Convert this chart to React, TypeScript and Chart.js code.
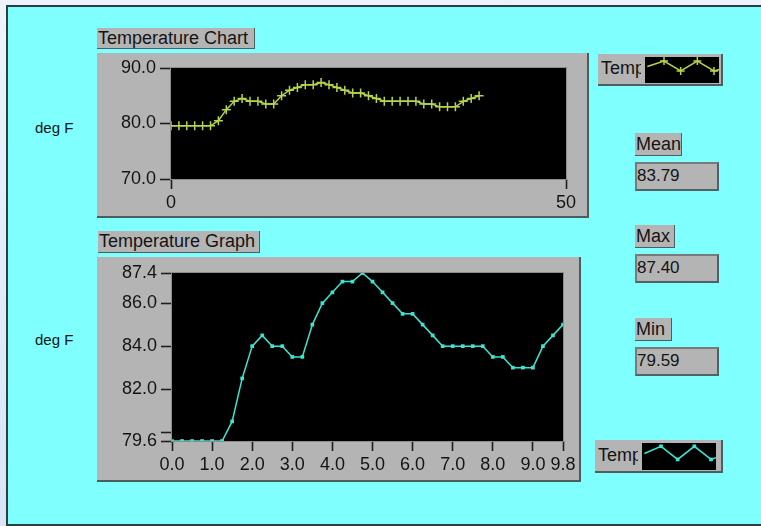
import React, { useEffect, useRef } from "react";
import { Chart, registerables } from "chart.js";

Chart.register(...registerables);

// ---------- data ----------
const TEMPERATURES = [
  79.59, 79.59, 79.59, 79.59, 79.59, 79.59, 80.5, 82.5, 84.0, 84.5,
  84.0, 84.0, 83.5, 83.5, 85.0, 86.0, 86.5, 87.0, 87.0, 87.4,
  87.0, 86.5, 86.0, 85.5, 85.5, 85.0, 84.5, 84.0, 84.0, 84.0,
  84.0, 84.0, 83.5, 83.5, 83.0, 83.0, 83.0, 84.0, 84.5, 85.0,
];
const GRAPH_X0 = 0;
const GRAPH_DX = 0.25;

const CHART_X_TICKS = [0, 50];
const CHART_X_LABELS = ["0", "50"];
const CHART_Y_TICKS = [70, 80, 90];
const CHART_Y_LABELS = ["70.0", "80.0", "90.0"];

const GRAPH_X_TICKS = [0, 1, 2, 3, 4, 5, 6, 7, 8, 9, 9.75];
const GRAPH_X_LABELS = ["0.0", "1.0", "2.0", "3.0", "4.0", "5.0", "6.0", "7.0", "8.0", "9.0", "9.8"];
const GRAPH_Y_TICKS = [79.59, 80, 82, 84, 86, 87.4];
const GRAPH_Y_LABELS = ["79.6", "", "82.0", "84.0", "86.0", "87.4"];

const STAT_NAMES = ["Mean", "Max", "Min"];
const STAT_VALUES = ["83.79", "87.40", "79.59"];

// legend glyph: a small zig-zag
const LEGEND_WAVE = [0.45, 1, 0, 1, 0, 0.45];

// ---------- styling ----------
const FONT = '"Liberation Sans", Arial, sans-serif';
const PANEL = "#b4b4b4";
const CYAN = "#80ffff";
const CHART_COLOR = "#b4d54c";
const GRAPH_COLOR = "#3fe3d2";
const TEXT = "#141414";

const plotBg = {
  id: "plotBg",
  beforeDraw(chart: any) {
    const { ctx, chartArea } = chart;
    if (!chartArea) return;
    const { left, top, width, height } = chartArea;
    ctx.save();
    ctx.fillStyle = "#000";
    ctx.fillRect(left, top, width, height);
    ctx.restore();
  },
  afterDraw(chart: any) {
    const { ctx, chartArea } = chart;
    if (!chartArea || chart.config.options.noFrame) return;
    const { left, top, width, height } = chartArea;
    ctx.save();
    ctx.strokeStyle = "#8c8c8c";
    ctx.lineWidth = 1;
    ctx.strokeRect(left - 0.5, top - 0.5, width + 1, height + 1);
    ctx.restore();
  },
};

function ChartCanvas(props: { width: number; height: number; config: any; style?: React.CSSProperties }) {
  const ref = useRef<HTMLCanvasElement>(null);
  useEffect(() => {
    const chart = new Chart(ref.current as HTMLCanvasElement, props.config);
    return () => chart.destroy();
  }, []);
  return (
    <canvas
      ref={ref}
      width={props.width}
      height={props.height}
      style={{ position: "absolute", left: 0, top: 0, width: props.width, height: props.height, ...props.style }}
    />
  );
}

function fixedTicks(values: number[]) {
  return (axis: any) => {
    axis.ticks = values.map((v) => ({ value: v }));
  };
}

function makeAxis(opts: {
  min: number;
  max: number;
  ticks: number[];
  labels: string[];
  isX: boolean;
  size: number;
}) {
  return {
    type: "linear",
    position: opts.isX ? "bottom" : "left",
    min: opts.min,
    max: opts.max,
    afterBuildTicks: fixedTicks(opts.ticks),
    afterFit: (s: any) => {
      if (opts.isX) s.height = opts.size;
      else s.width = opts.size;
    },
    border: { display: false },
    grid: {
      drawOnChartArea: false,
      drawTicks: true,
      tickLength: opts.isX ? 10 : 11,
      tickColor: "#1e1e1e",
      tickWidth: 1.6,
    },
    ticks: {
      color: TEXT,
      font: { family: FONT, size: 18 },
      padding: opts.isX ? 3 : 4,
      autoSkip: false,
      maxRotation: 0,
      minRotation: 0,
      callback: (_v: any, i: number) => opts.labels[i],
    },
  };
}

function baseOptions(padTop: number, padRight: number) {
  return {
    responsive: false,
    animation: false,
    events: [],
    layout: { padding: { top: padTop, right: padRight, left: 0, bottom: 0 } },
    plugins: { legend: { display: false }, tooltip: { enabled: false }, title: { display: false } },
  };
}

const chartConfig = {
  type: "line",
  data: {
    datasets: [
      {
        data: TEMPERATURES.map((v, i) => ({ x: i, y: v })),
        borderColor: CHART_COLOR,
        borderWidth: 1.5,
        pointStyle: "cross",
        pointRadius: 4.5,
        pointBorderWidth: 1.5,
        pointBorderColor: CHART_COLOR,
        pointBackgroundColor: CHART_COLOR,
        tension: 0,
      },
    ],
  },
  options: {
    ...baseOptions(15, 21),
    scales: {
      x: makeAxis({ min: 0, max: 50, ticks: CHART_X_TICKS, labels: CHART_X_LABELS, isX: true, size: 37 }),
      y: makeAxis({ min: 70, max: 90, ticks: CHART_Y_TICKS, labels: CHART_Y_LABELS, isX: false, size: 74 }),
    },
  },
  plugins: [plotBg],
};

const graphConfig = {
  type: "line",
  data: {
    datasets: [
      {
        data: TEMPERATURES.map((v, i) => ({ x: GRAPH_X0 + i * GRAPH_DX, y: v })),
        borderColor: GRAPH_COLOR,
        borderWidth: 1.5,
        pointStyle: "rect",
        pointRadius: 2.6,
        pointBorderWidth: 0,
        pointBackgroundColor: GRAPH_COLOR,
        tension: 0,
      },
    ],
  },
  options: {
    ...baseOptions(16, 16),
    scales: {
      x: makeAxis({ min: 0, max: 9.75, ticks: GRAPH_X_TICKS, labels: GRAPH_X_LABELS, isX: true, size: 39 }),
      y: makeAxis({ min: 79.59, max: 87.4, ticks: GRAPH_Y_TICKS, labels: GRAPH_Y_LABELS, isX: false, size: 75 }),
    },
  },
  plugins: [plotBg],
};

function legendConfig(color: string, style: string, ymin: number, ymax: number) {
  return {
    type: "line",
    data: {
      datasets: [
        {
          data: LEGEND_WAVE.map((v, i) => ({ x: i, y: v })),
          borderColor: color,
          borderWidth: 1.5,
          pointStyle: style,
          pointRadius: LEGEND_WAVE.map((_, i) => (i === 0 || i === LEGEND_WAVE.length - 1 ? 0 : style === "cross" ? 4 : 2.6)),
          pointBorderWidth: style === "cross" ? 1.5 : 0,
          pointBorderColor: color,
          pointBackgroundColor: color,
          tension: 0,
        },
      ],
    },
    options: {
      ...baseOptions(0, 0),
      noFrame: true,
      scales: {
        x: { type: "linear", display: false, min: -0.14, max: 4.3 },
        y: { display: false, min: ymin, max: ymax },
      },
    },
    plugins: [plotBg],
  };
}

// ---------- small UI pieces ----------
function Tag(p: { left: number; top: number; width: number; height: number; text: string }) {
  return (
    <div
      style={{
        position: "absolute",
        left: p.left,
        top: p.top,
        width: p.width,
        height: p.height,
        background: PANEL,
        borderRight: "1px solid #4d5e5e",
        borderBottom: "1px solid #4d5e5e",
        boxSizing: "border-box",
        font: `18px ${FONT}`,
        lineHeight: `${p.height - 1}px`,
        paddingLeft: 1,
        color: TEXT,
        whiteSpace: "nowrap",
        overflow: "hidden",
      }}
    >
      {p.text}
    </div>
  );
}

function ValueBox(p: { left: number; top: number; text: string }) {
  return (
    <div
      style={{
        position: "absolute",
        left: p.left,
        top: p.top,
        width: 84,
        height: 29,
        background: PANEL,
        borderTop: "2px solid #7a7a7a",
        borderLeft: "2px solid #7a7a7a",
        borderRight: "2px solid #506262",
        borderBottom: "2px solid #506262",
        boxSizing: "border-box",
        font: `17px ${FONT}`,
        lineHeight: "24px",
        paddingLeft: 0,
        color: TEXT,
      }}
    >
      {p.text}
    </div>
  );
}

function LegendBox(p: { left: number; top: number; width: number; height: number; color: string; style: string; ymin: number; ymax: number }) {
  const iconW = 74;
  const iconH = p.height - 6;
  return (
    <div
      style={{
        position: "absolute",
        left: p.left,
        top: p.top,
        width: p.width,
        height: p.height,
        background: PANEL,
        borderRight: "2px solid #4d5e5e",
        borderBottom: "2px solid #4d5e5e",
        boxSizing: "border-box",
      }}
    >
      <div
        style={{
          position: "absolute",
          left: 3,
          top: 0,
          width: 40,
          height: p.height - 2,
          overflow: "hidden",
          whiteSpace: "nowrap",
          font: `18px ${FONT}`,
          lineHeight: `${p.height - 3}px`,
          color: TEXT,
        }}
      >
        Temp
      </div>
      <div style={{ position: "absolute", left: 47, top: 3, width: iconW, height: iconH }}>
        <ChartCanvas width={iconW} height={iconH} config={legendConfig(p.color, p.style, p.ymin, p.ymax)} />
      </div>
    </div>
  );
}

function Panel(p: { left: number; top: number; width: number; height: number; children?: React.ReactNode }) {
  return (
    <div
      style={{
        position: "absolute",
        left: p.left,
        top: p.top,
        width: p.width,
        height: p.height,
        background: PANEL,
        borderRight: "2px solid #4a5e5e",
        borderBottom: "2px solid #4a5e5e",
        boxSizing: "border-box",
      }}
    >
      {p.children}
    </div>
  );
}

const degStyle: React.CSSProperties = {
  position: "absolute",
  left: 35,
  font: `15px ${FONT}`,
  color: TEXT,
  whiteSpace: "nowrap",
};

export default function App() {
  const statTops = [133, 225, 318];
  const statWidths = [47, 40, 37];
  return (
    <div
      style={{
        position: "fixed",
        left: 0,
        top: 0,
        width: 761,
        height: 526,
        overflow: "hidden",
        background: "linear-gradient(180deg, #eef3fb 0%, #d9e4f6 100%)",
      }}
    >
      <div
        style={{
          position: "absolute",
          left: 6,
          top: 5,
          width: 755,
          height: 521,
          background: CYAN,
          borderLeft: "2px solid #29403f",
          borderTop: "2px solid #29403f",
          borderBottom: "2px solid #29403f",
          boxSizing: "border-box",
        }}
      />

      {/* Temperature Chart */}
      <Tag left={97} top={28} width={158} height={21} text="Temperature Chart" />
      <Panel left={97} top={53} width={492} height={165}>
        <ChartCanvas width={490} height={163} config={chartConfig} />
      </Panel>
      <div style={{ ...degStyle, top: 119 }}>deg F</div>

      {/* Temperature Graph */}
      <Tag left={98} top={231} width={162} height={22} text="Temperature Graph" />
      <Panel left={97} top={257} width={484} height={225}>
        <ChartCanvas width={482} height={223} config={graphConfig} />
      </Panel>
      <div style={{ ...degStyle, top: 331 }}>deg F</div>

      {/* Legends */}
      <LegendBox left={598} top={54} width={125} height={32} color={CHART_COLOR} style="cross" ymin={-1.2} ymax={1.4} />
      <LegendBox left={595} top={440} width={128} height={33} color={GRAPH_COLOR} style="rect" ymin={-0.8} ymax={1.25} />

      {/* Statistics */}
      {STAT_NAMES.map((name, i) => (
        <React.Fragment key={name}>
          <Tag left={635} top={statTops[i]} width={statWidths[i]} height={23} text={name} />
          <ValueBox left={635} top={statTops[i] + 29} text={STAT_VALUES[i]} />
        </React.Fragment>
      ))}
    </div>
  );
}
